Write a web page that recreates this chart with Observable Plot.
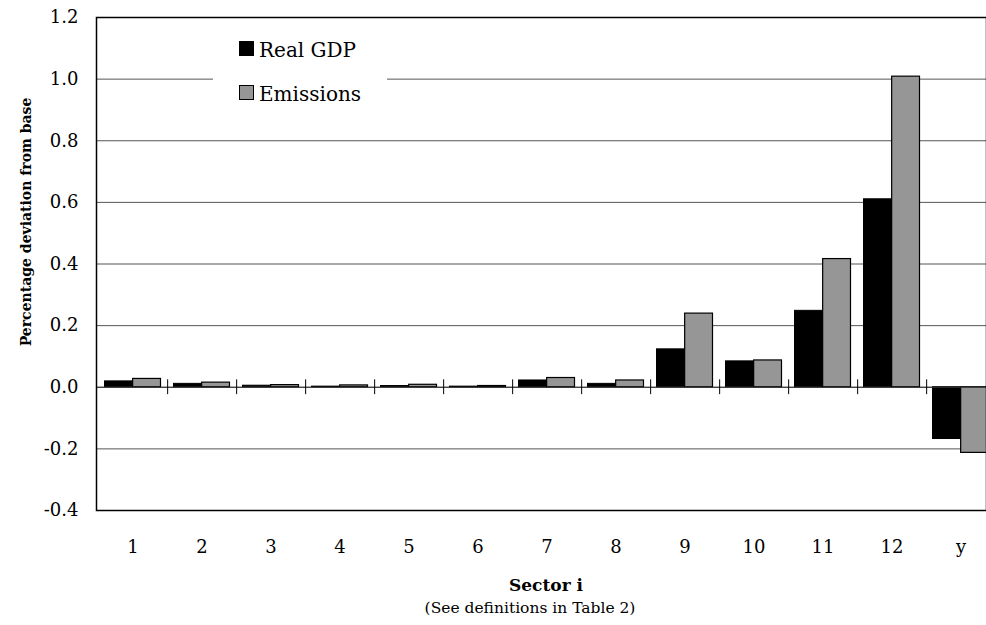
<!DOCTYPE html>
<html>
<head>
<meta charset="utf-8">
<script src="https://cdn.jsdelivr.net/npm/d3@7"></script>
<script src="https://cdn.jsdelivr.net/npm/@observablehq/plot@0.6"></script>
<style>
  html, body { margin: 0; padding: 0; background: #fff; overflow: hidden; }
  #wrap { position: relative; width: 986px; height: 625px; font-family: "DejaVu Serif", serif; color: #000; }
  #wrap svg { overflow: hidden; }
  #wrap svg text { font-family: "DejaVu Serif", serif; }
  .abs { position: absolute; line-height: 1; white-space: nowrap; font-family: "DejaVu Serif", serif; }
</style>
</head>
<body>
<div id="wrap"></div>
<script>
// ---- data ----
const categories = ["1","2","3","4","5","6","7","8","9","10","11","12","y"];
const realGDP   = [0.019, 0.011, 0.005, 0.002, 0.004, 0.002, 0.022, 0.011, 0.123, 0.084, 0.248, 0.610, -0.168];
const emissions = [0.027, 0.015, 0.007, 0.006, 0.008, 0.004, 0.030, 0.022, 0.239, 0.087, 0.416, 1.008, -0.213];
const yTicks = [-0.4, -0.2, 0.0, 0.2, 0.4, 0.6, 0.8, 1.0, 1.2];
const seriesNames = ["Real GDP", "Emissions"];
const seriesColors = ["#000000", "#969696"];
const xTitle = "Sector i";
const xCaption = "(See definitions in Table 2)";
const yTitle = "Percentage deviation from base";

const gdpRows = categories.map((c, i) => ({cat: c, value: realGDP[i]}));
const emiRows = categories.map((c, i) => ({cat: c, value: emissions[i]}));
const boundaryCats = categories.slice(0, -1);

const W = 986, H = 565;
const left = 96, band = 69.31;
const halfBand = band / 2;
const FONT = "DejaVu Serif";

const chart = Plot.plot({
  width: W,
  height: H,
  marginTop: 17,
  marginBottom: 55,
  marginLeft: left,
  marginRight: 0,
  style: {fontFamily: FONT, fontSize: "18px", color: "#000", background: "#fff", overflow: "hidden"},
  x: {type: "band", domain: categories, range: [left, left + band * categories.length], padding: 0, label: null},
  y: {domain: [-0.4, 1.2], label: null},
  marks: [
    Plot.ruleY(yTicks, {stroke: "#555", strokeWidth: 1}),
    Plot.barY(gdpRows, {x: "cat", y: "value", fill: seriesColors[0], stroke: "#000", strokeWidth: 1, insetLeft: 6.5, insetRight: halfBand}),
    Plot.barY(emiRows, {x: "cat", y: "value", fill: seriesColors[1], stroke: "#000", strokeWidth: 1.2, insetLeft: halfBand, insetRight: 6.5}),
    Plot.ruleY([0], {stroke: "#333", strokeWidth: 1}),
    Plot.ruleX(boundaryCats, {x: d => d, y1: -0.024, y2: 0.024, dx: halfBand, stroke: "#000", strokeWidth: 1}),
    Plot.frame({stroke: "#000", strokeWidth: 1.5}),
    Plot.axisY({ticks: yTicks, tickSize: 0, tickPadding: 18, tickFormat: d => d.toFixed(1), fontSize: 18, fontFamily: FONT, label: null}),
    Plot.axisX({tickSize: 0, tickPadding: 30, fontSize: 18, fontFamily: FONT, label: null})
  ]
});

const wrap = document.getElementById("wrap");
wrap.appendChild(chart);

function addDiv(text, css) {
  const d = document.createElement("div");
  d.className = "abs";
  d.textContent = text;
  Object.assign(d.style, css);
  wrap.appendChild(d);
  return d;
}

// y-axis title
addDiv(yTitle, {left: "26px", top: "222px", fontWeight: "bold", fontSize: "14px",
  transform: "translate(-50%, -50%) rotate(-90deg)"});

// x title and caption
addDiv(xTitle, {left: "546px", top: "576.5px", fontWeight: "bold", fontSize: "17px", transform: "translateX(-50%)"});
addDiv(xCaption, {left: "530px", top: "601px", fontSize: "15.5px", transform: "translateX(-50%)"});

// legend (white box covering gridline)
const leg = document.createElement("div");
Object.assign(leg.style, {position: "absolute", left: "213px", top: "28px", width: "174px", height: "86px", background: "#fff"});
wrap.appendChild(leg);
const legTops = [41, 85];
seriesNames.forEach((name, i) => {
  const sw = document.createElement("div");
  Object.assign(sw.style, {position: "absolute", left: "239px", top: legTops[i] + "px", width: "15px", height: "15px",
    background: seriesColors[i], boxSizing: "border-box", border: "1.3px solid #000"});
  wrap.appendChild(sw);
  addDiv(name, {left: "259px", top: (legTops[i] - 1) + "px", fontSize: "20px"});
});
</script>
</body>
</html>
